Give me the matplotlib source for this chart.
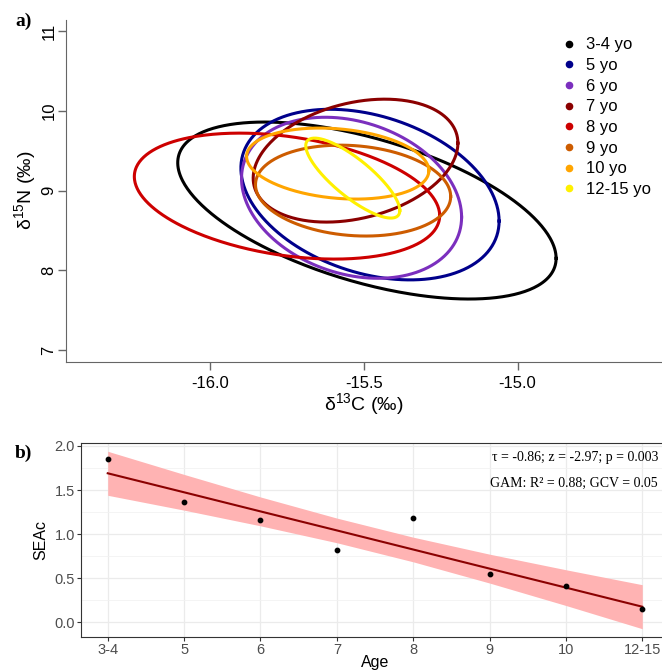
import numpy as np
import matplotlib
matplotlib.use("Agg")
import matplotlib.pyplot as plt
from matplotlib.lines import Line2D

plt.rcParams['font.family'] = ['Liberation Sans', 'DejaVu Sans']
plt.rcParams['mathtext.fontset'] = 'custom'
plt.rcParams['mathtext.rm'] = 'Liberation Sans'
plt.rcParams['mathtext.it'] = 'Liberation Sans'

# panel a) standard ellipses
groups = ["3-4 yo", "5 yo", "6 yo", "7 yo", "8 yo", "9 yo", "10 yo", "12-15 yo"]
colors = ["#000000", "#00008B", "#7B2FBE", "#8B0000", "#CD0000", "#CD5C00", "#FFA500", "#FFF000"]
cx = [-15.49, -15.48, -15.54, -15.527, -15.75, -15.535, -15.585, -15.536]
cy = [8.75, 8.95, 8.91, 9.376, 8.931, 9.0, 9.339, 9.157]
sx = [0.6155, 0.42, 0.358, 0.333, 0.4967, 0.3175, 0.2965, 0.153]
sy = [1.11, 1.07, 1.01, 0.771, 0.79, 0.57, 0.4455, 0.5015]
rho = [-0.54, -0.31, -0.24, 0.285, -0.31, -0.13, -0.2, -0.81]

# panel b) SEAc by age
ages = ["3-4", "5", "6", "7", "8", "9", "10", "12-15"]
seac = [1.852, 1.364, 1.156, 0.815, 1.18, 0.545, 0.413, 0.148]
fit = [1.690, 1.474, 1.257, 1.041, 0.824, 0.607, 0.391, 0.174]
upper = [1.940, 1.677, 1.421, 1.181, 0.964, 0.771, 0.594, 0.424]
lower = [1.440, 1.271, 1.093, 0.901, 0.684, 0.443, 0.188, -0.076]

fig = plt.figure(figsize=(6.62, 6.71), dpi=100)

# ---- panel a
ax = fig.add_axes([66/662, 1-362/671, 1-66/662, (362-20)/671])
t = np.linspace(0, 2*np.pi, 400)
for i in range(len(groups)):
    x = cx[i] + sx[i]*np.cos(t)
    y = cy[i] + sy[i]*(rho[i]*np.cos(t) + np.sqrt(1-rho[i]**2)*np.sin(t))
    ax.plot(x, y, color=colors[i], lw=2.2)
ax.set_xlim(-16.469, -14.53)
ax.set_ylim(6.85, 11.14)
ax.set_xticks([-16.0, -15.5, -15.0])
ax.set_xticklabels(["-16.0", "-15.5", "-15.0"])
ax.set_yticks([7, 8, 9, 10, 11])
for lab in ax.get_yticklabels():
    lab.set_rotation(90)
    lab.set_va('center')
ax.tick_params(labelsize=12, length=6, color="#666666", width=1, pad=4)
ax.tick_params(axis="y", pad=1)
for s in ["top", "right"]:
    ax.spines[s].set_visible(False)
for s in ["left", "bottom"]:
    ax.spines[s].set_color("#666666")
ax.set_xlabel(r"$\mathregular{\delta^{13}}$C (‰)", fontsize=14, labelpad=0)
ax.set_ylabel(r"$\mathregular{\delta^{15}}$N (‰)", fontsize=14)
ax.yaxis.set_label_coords(-0.068, 0.503)
ax.yaxis.label.set_va("center")

handles = [Line2D([], [], ls="", marker="o", ms=4.5, color=c) for c in colors]
ax.legend(handles, groups, loc="upper left", bbox_to_anchor=(554/662, 1-29/671),
          bbox_transform=fig.transFigure, frameon=False, fontsize=12,
          labelspacing=0.34, handlelength=0.8, handletextpad=0.6, borderpad=0)

fig.text(15/662, 1-21/671, "a)", fontsize=14, fontweight="bold",
         family="Liberation Serif", va="center")

# ---- panel b
bx = fig.add_axes([81/662, 1-637/671, 588/662, (637-443)/671])
pos = np.arange(1, len(ages)+1)
bx.fill_between(pos, lower, upper, color="#FFB3B3", lw=0, zorder=2)
bx.plot(pos, fit, color="#8B0000", lw=1.5, zorder=3)
bx.scatter(pos, seac, s=10, color="black", zorder=4)
bx.set_xlim(0.65, 8.35)
bx.set_ylim(-0.17, 2.034)
bx.set_xticks(pos)
bx.set_xticklabels(ages)
bx.set_yticks([0.0, 0.5, 1.0, 1.5, 2.0])
bx.set_yticks([0.25, 0.75, 1.25, 1.75], minor=True)
bx.grid(True, which="major", color="#EBEBEB", lw=0.9, zorder=0)
bx.grid(True, which="minor", axis="y", color="#F2F2F2", lw=0.6, zorder=0)
bx.set_axisbelow(True)
bx.tick_params(labelsize=10.5, labelcolor="#4D4D4D", color="#333333", length=3, width=0.8, pad=1.5)
bx.tick_params(which="minor", length=0)
for s in bx.spines.values():
    s.set_color("#333333")
    s.set_linewidth(0.8)
bx.set_xlabel("Age", fontsize=11.5, labelpad=-1.5)
bx.set_ylabel("SEAc", fontsize=11.5, labelpad=4)

bx.text(658/662, 1-457/671, "τ = -0.86; z = -2.97; p = 0.003", transform=fig.transFigure,
        ha="right", va="center", fontsize=10, family="Liberation Serif")
bx.text(658/662, 1-483/671, "GAM: R² = 0.88; GCV = 0.05", transform=fig.transFigure,
        ha="right", va="center", fontsize=10, family="Liberation Serif")

fig.text(15/662, 1-453/671, "b)", fontsize=14, fontweight="bold",
         family="Liberation Serif", va="center")

fig.savefig("out.png", dpi=100)
